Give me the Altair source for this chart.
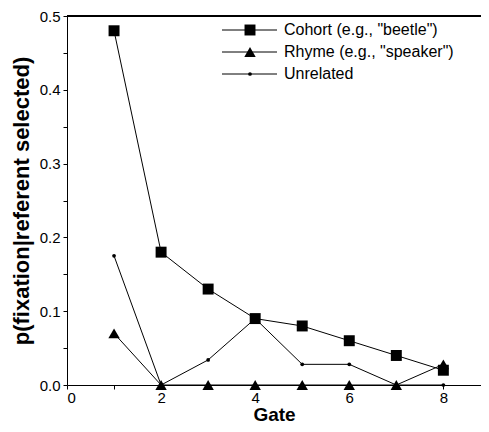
import altair as alt
import pandas as pd

gates = [1, 2, 3, 4, 5, 6, 7, 8]
cohort = [0.48, 0.18, 0.13, 0.09, 0.08, 0.06, 0.04, 0.02]
rhyme = [0.07, 0.0, 0.0, 0.0, 0.0, 0.0, 0.0, 0.028]
unrelated = [0.175, 0.0, 0.034, 0.09, 0.028, 0.028, 0.0, 0.0]
series = ['Cohort (e.g., "beetle")', 'Rhyme (e.g., "speaker")', 'Unrelated']
shapes = ["square", "triangle-up", "circle"]
sizes = [120, 130, 14]
x_ticks = list(range(0, 9))
y_ticks = [0, 0.05, 0.1, 0.15, 0.2, 0.25, 0.3, 0.35, 0.4, 0.45, 0.5]

FONT = "Liberation Sans"
W, H = 414, 369

rows = []
for name, vals in zip(series, [cohort, rhyme, unrelated]):
    for g, v in zip(gates, vals):
        rows.append({"gate": g, "p": v, "series": name})
df = pd.DataFrame(rows)

x = alt.X("gate:Q", scale=alt.Scale(domain=[0, 8.8], nice=False),
          axis=alt.Axis(values=x_ticks, title="Gate",
                        labelExpr="datum.value % 2 == 0 ? datum.label : ''",
                        grid=False, domainColor="black", tickColor="black",
                        tickSize=4, labelFont=FONT, labelFontSize=15,
                        labelColor="black", labelPadding=1,
                        titleFont=FONT, titleFontSize=19, titleFontWeight="bold",
                        titleColor="black", titlePadding=0))
y = alt.Y("p:Q", scale=alt.Scale(domain=[0, 0.5], nice=False),
          axis=alt.Axis(values=y_ticks, title="p(fixation|referent selected)",
                        labelExpr="round(datum.value*20) % 2 == 0 ? format(datum.value, '.1f') : ''",
                        grid=False, domainColor="black", tickColor="black",
                        tickSize=4, labelFont=FONT, labelFontSize=15,
                        labelColor="black", labelPadding=3,
                        titleFont=FONT, titleFontSize=22, titleFontWeight="bold",
                        titleColor="black", titlePadding=6))

layers = []
lines = alt.Chart(df).mark_line(color="black", strokeWidth=1).encode(
    x=x, y=y, detail="series:N")
layers.append(lines)
for i, name in enumerate(series):
    sdf = df[df["series"] == name]
    layers.append(alt.Chart(sdf).mark_point(
        filled=True, color="black", opacity=1, shape=shapes[i], size=sizes[i]
    ).encode(x=x, y=y))

top = alt.Chart(df).mark_rule(color="black", strokeWidth=1).encode(
    x=alt.value(0), x2=alt.value(W), y=alt.value(0))
layers.append(top)

leg_y = [14, 36, 58]
for i, name in enumerate(series):
    ldf = pd.DataFrame({"series": [name]})
    base = alt.Chart(ldf)
    layers.append(base.mark_rule(color="black", strokeWidth=1).encode(
        x=alt.value(155), x2=alt.value(210), y=alt.value(leg_y[i])))
    layers.append(base.mark_point(filled=True, color="black", opacity=1,
                                  shape=shapes[i], size=sizes[i]).encode(
        x=alt.value(183), y=alt.value(leg_y[i])))
    layers.append(base.mark_text(align="left", baseline="middle", font=FONT,
                                 fontSize=16, color="black").encode(
        x=alt.value(217), y=alt.value(leg_y[i]), text="series:N"))

chart = alt.layer(*layers).properties(
    width=W, height=H,
    autosize=alt.AutoSizeParams(type="none"),
    padding={"left": 59, "top": 8, "right": 0, "bottom": 39},
).configure_view(stroke=None)

chart.save("out.html", embed_options={"renderer": "svg", "actions": False})
